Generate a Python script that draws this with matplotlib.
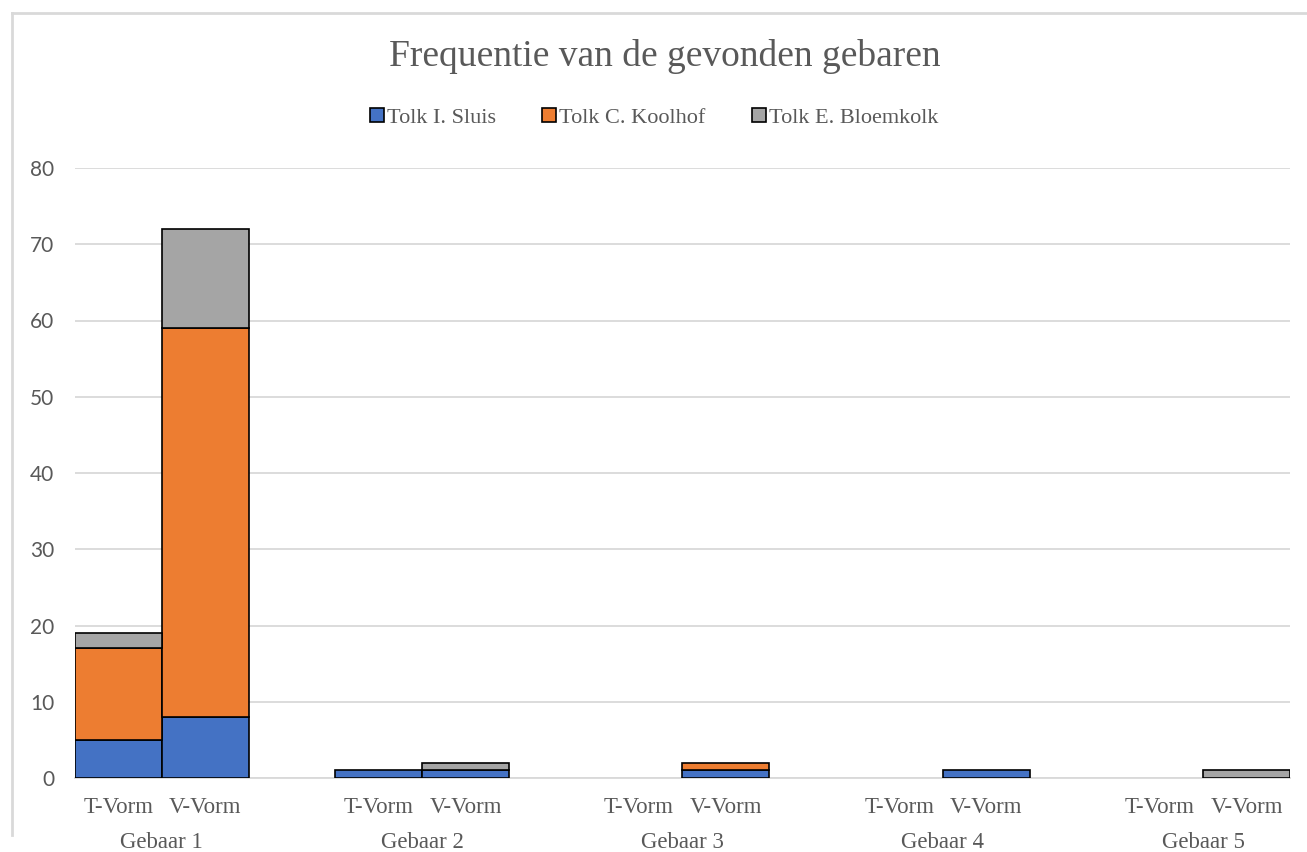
import numpy as np
import matplotlib
matplotlib.use("Agg")
from matplotlib import pyplot as plt
from matplotlib.lines import Line2D
from matplotlib.transforms import blended_transform_factory

groups = ["Gebaar 1", "Gebaar 2", "Gebaar 3", "Gebaar 4", "Gebaar 5"]
forms = ["T-Vorm", "V-Vorm"]
series = ["Tolk I. Sluis", "Tolk C. Koolhof", "Tolk E. Bloemkolk"]
colors = ["#4472C4", "#ED7D31", "#A5A5A5"]

# values per group: [T-Vorm, V-Vorm]
sluis = [[5, 8], [1, 1], [0, 1], [0, 1], [0, 0]]
koolhof = [[12, 51], [0, 0], [0, 1], [0, 0], [0, 0]]
bloemkolk = [[2, 13], [0, 1], [0, 0], [0, 0], [0, 1]]

serif = "Liberation Serif"
grey_txt = "#595959"

fig = plt.figure(figsize=(13.07, 8.52), dpi=100)
ax = fig.add_axes([75 / 1307, 1 - 778 / 852, 1215 / 1307, 610 / 852])

# T, V, blank, T, V, blank ...
xpos = []
for g in range(len(groups)):
    xpos += [3 * g, 3 * g + 1]
xpos = np.array(xpos)

data = [np.array(sluis).ravel(), np.array(koolhof).ravel(), np.array(bloemkolk).ravel()]
bottom = np.zeros(len(xpos))
handles = []
for vals, col, name in zip(data, colors, series):
    mask = vals > 0
    ax.bar(xpos[mask], vals[mask], bottom=bottom[mask], width=1.0,
           color=col, edgecolor="black", linewidth=1.2, zorder=3)
    bottom += vals
    handles.append(Line2D([], [], marker="s", linestyle="none", markersize=10,
                          markerfacecolor=col, markeredgecolor="black",
                          markeredgewidth=1.2, label=name))

ax.set_xlim(-0.5, 13.5)
ax.set_ylim(0, 80)
ax.set_yticks(np.arange(0, 81, 10))
ax.yaxis.grid(True, color="#d9d9d9", linewidth=1.3, zorder=0)
ax.set_axisbelow(True)
for s in ["top", "right", "left"]:
    ax.spines[s].set_visible(False)
ax.spines["bottom"].set_color("#d9d9d9")
ax.spines["bottom"].set_linewidth(1.3)
ax.tick_params(axis="y", length=0, pad=15, labelsize=15, labelcolor=grey_txt)
for lab in ax.get_yticklabels():
    lab.set_fontfamily("Lato")

ax.set_xticks(xpos)
ax.set_xticklabels(forms * len(groups), fontfamily=serif, fontsize=16.5, color=grey_txt)
ax.tick_params(axis="x", length=0, pad=14)

tr = blended_transform_factory(ax.transData, fig.transFigure)
for g, name in enumerate(groups):
    ax.text(3 * g + 0.5, 1 - 842 / 852, name, transform=tr, ha="center", va="center",
            fontfamily=serif, fontsize=16.5, color=grey_txt)

fig.text(665 / 1307, 1 - 57 / 852, "Frequentie van de gevonden gebaren", ha="center", va="center",
         fontfamily=serif, fontsize=27, color=grey_txt)

fig.legend(handles=handles, loc="center", bbox_to_anchor=(653 / 1307, 1 - 118 / 852), ncol=3,
           frameon=False, handletextpad=0.05, columnspacing=2.0, handlelength=0.8,
           prop={"family": serif, "size": 16}, labelcolor=grey_txt)

# chart frame (top and left edges visible)
fig.add_artist(Line2D([12 / 1307, 1], [1 - 13 / 852, 1 - 13 / 852], color="#d9d9d9",
                      linewidth=2, transform=fig.transFigure))
fig.add_artist(Line2D([12 / 1307, 12 / 1307], [1 - 13 / 852, 1 - 835 / 852], color="#d9d9d9",
                      linewidth=2, transform=fig.transFigure))

fig.savefig("out.png", dpi=100)
